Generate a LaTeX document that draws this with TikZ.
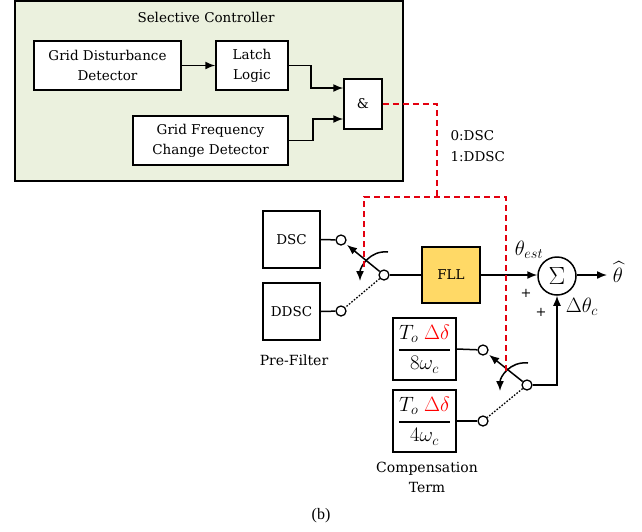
\documentclass[tikz,border=0pt]{standalone}
\usepackage{amsmath}
\usepackage{fontspec}
\setmainfont{DejaVu Serif}
\newfontfamily\figfont{Liberation Serif}
\usepackage{tikz}
\usetikzlibrary{arrows.meta,calc}
\definecolor{ctrlgreen}{HTML}{EBF1DE}
\definecolor{fllyellow}{HTML}{FFD966}
\definecolor{selred}{HTML}{E3000F}
\tikzset{
  blockbox/.style={draw=black,fill=white,line width=1.5pt,align=center,inner sep=0pt,
    font=\fontsize{13.5}{20}\selectfont},
  fracbox/.style={draw=black,fill=white,line width=1.5pt,inner sep=0pt,
    minimum width=63pt,minimum height=62pt,font=\fontsize{20}{22}\selectfont},
  termcircle/.style={circle,draw=black,fill=white,line width=1.3pt,minimum size=10pt,inner sep=0pt},
  sumcircle/.style={circle,draw=black,fill=white,line width=1.5pt,minimum size=38pt,inner sep=0pt,
    font=\fontsize{26}{28}\selectfont},
  sigline/.style={line width=1.5pt},
  sigarrow/.style={-{Latex[length=10pt,width=8pt]},line width=1.5pt},
  swdotted/.style={line width=1.3pt,dash pattern=on 1.6pt off 1.6pt},
  selline/.style={draw=selred,line width=1.5pt,dash pattern=on 6pt off 4pt},
  captext/.style={font=\fontsize{14}{20}\selectfont,align=center},
  mathlabel/.style={font=\fontsize{21}{22}\selectfont,inner sep=0pt},
  signlabel/.style={font=\fontsize{13}{13}\selectfont,inner sep=0pt}
}
\newcommand{\comp}[1]{$\genfrac{}{}{2pt}{0}{T_o\;\textcolor{red}{\Delta\delta}}{#1\omega_c}$}

\begin{document}
\begin{tikzpicture}[x=1pt,y=-1pt]
  \useasboundingbox (0,0) rectangle (642,531);
  % selective controller
  \draw[line width=1.5pt,fill=ctrlgreen] (15,1) rectangle (403,181);
  \node[font=\fontsize{13.5}{16}\selectfont] (ctrltitle) at (206,17) {Selective Controller};
  \node[blockbox,minimum width=147pt,minimum height=49pt] (gdd) at (107.5,65.5) {Grid Disturbance\\Detector};
  \node[blockbox,minimum width=72pt,minimum height=49pt] (latch) at (252,65.5) {Latch\\Logic};
  \node[blockbox,minimum width=155pt,minimum height=49pt] (gfcd) at (210.5,140.5) {Grid Frequency\\Change Detector};
  \node[blockbox,minimum width=38pt,minimum height=50pt] (andg) at (363,104) {\&};
  \draw[sigarrow] (gdd.east) -- (latch.west);
  \draw[sigarrow] (latch.east) -- ++(22,0) |- ([yshift=16pt]andg.west);
  \draw[sigarrow] (gfcd.east) -- ++(24,0) |- ([yshift=-15pt]andg.west);

  % pre-filter switch
  \node[blockbox,minimum width=57pt,minimum height=57pt] (dsc) at (291.5,239.5) {DSC};
  \node[blockbox,minimum width=57pt,minimum height=57pt] (ddsc) at (291.5,311.5) {DDSC};
  \node[termcircle] (t1) at (341,240) {};
  \node[termcircle] (t2) at (341,311) {};
  \node[termcircle] (tc) at (384,275) {};
  \draw[sigline] (dsc.east) -- (t1);
  \draw[sigline] (ddsc.east) -- (t2);
  \draw[sigarrow] (tc) -- ($(tc)!0.86!(t1)$);
  \draw[swdotted] (tc) -- (t2);
  \coordinate (sw1a) at ($(tc)+(4,-23)$);
  \coordinate (sw1b) at ($(tc)+(-24,6)$);
  \draw[sigarrow] (sw1a) .. controls +(-18,-2) and +(0,-14) .. (sw1b);
  \node[captext] (prefilter) at (294,360) {Pre-Filter};

  % FLL and sum
  \node[blockbox,fill=fllyellow,minimum width=58pt,minimum height=56pt] (fll) at (451,275) {FLL};
  \node[sumcircle] (sum) at (557,276) {$\Sigma$};
  \draw[sigline] (tc) -- (fll.west);
  \draw[sigarrow] (fll.east) -- (sum.west |- fll.east);
  \node[mathlabel] (thhat) at (618,272) {$\widehat{\theta}$};
  \coordinate (outend) at (607,275);
  \draw[sigarrow] (sum.east |- outend) -- (outend);
  \node[mathlabel] (thest) at (529,250) {$\theta_{est}$};
  \node[mathlabel] (dthc) at (582,307) {$\Delta\theta_c$};
  \node[signlabel] (plus1) at (526,293) {+};
  \node[signlabel] (plus2) at (541,312) {+};

  % compensation switch
  \node[fracbox] (c8) at (424.5,349) {\comp{8}};
  \node[fracbox] (c4) at (424.5,421) {\comp{4}};
  \node[termcircle] (t3) at (483,350) {};
  \node[termcircle] (t4) at (483,421) {};
  \node[termcircle] (tc2) at (527,385) {};
  \draw[sigline] (c8.east) -- (t3);
  \draw[sigline] (c4.east) -- (t4);
  \draw[sigarrow] (tc2) -- ($(tc2)!0.86!(t3)$);
  \draw[swdotted] (tc2) -- (t4);
  \coordinate (sw2a) at ($(tc2)+(1,-22)$);
  \coordinate (sw2b) at ($(tc2)+(-27,6)$);
  \draw[sigarrow] (sw2a) .. controls +(-18,-2) and +(0,-14) .. (sw2b);
  \draw[sigarrow] (tc2) -| (sum.south);
  \node[captext] (compterm) at (427,477) {Compensation\\Term};

  % selection signal
  \coordinate (selcorner) at (437,104);
  \coordinate (seljoin) at (437,197);
  \coordinate (selL) at (364,197);
  \coordinate (selR) at (506,197);
  \draw[selline] (andg.east) -- (selcorner) -- (seljoin);
  \draw[selline] (364,267) -- (selL) -- (selR) -- (506,372);
  \node[font=\fontsize{13.5}{21}\selectfont,align=left,anchor=west] (selnote) at (447,146) {0:DSC\\1:DDSC};

  \node[font=\figfont\fontsize{16}{18}\selectfont] (figtag) at (321,516) {(b)};
\end{tikzpicture}
\end{document}
